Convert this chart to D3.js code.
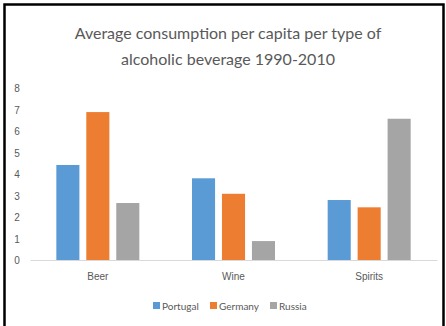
<!DOCTYPE html>
<html>
<head>
<meta charset="utf-8">
<script src="https://cdn.jsdelivr.net/npm/d3@7"></script>
<style>
  html, body { margin: 0; padding: 0; background: #fff; }
  svg { display: block; font-family: Lato, "Open Sans", sans-serif; }
</style>
</head>
<body>
<svg id="chart" width="446" height="326"></svg>
<script>
// Beverage types along the x axis
const categories = ["Beer", "Wine", "Spirits"];
// Countries, one bar each per beverage type
const seriesNames = ["Portugal", "Germany", "Russia"];
// Litres of pure alcohol per capita, per beverage type
const portugal = [4.42, 3.8, 2.79];
const germany = [6.88, 3.08, 2.45];
const russia = [2.65, 0.88, 6.57];
const yTicks = [0, 1, 2, 3, 4, 5, 6, 7, 8];
const titleLines = ["Average consumption per capita per type of", "alcoholic beverage 1990-2010"];
const colors = ["#5B9BD5", "#ED7D31", "#A5A5A5"];

const seriesValues = [portugal, germany, russia];
const svg = d3.select("#chart");

// outer frame
svg.append("rect")
  .attr("x", 4.5).attr("y", 4.5)
  .attr("width", 439).attr("height", 330)
  .attr("fill", "none").attr("stroke", "#000").attr("stroke-width", 2.5);

// title
svg.append("g").selectAll("text").data(titleLines).join("text")
  .attr("x", 228).attr("y", (d, i) => 38.5 + i * 26)
  .attr("text-anchor", "middle")
  .attr("font-size", 16)
  .attr("fill", "#595959")
  .text(d => d);

const plot = { left: 30, right: 437, top: 88, bottom: 260 };

const x0 = d3.scaleBand().domain(categories).range([plot.left, plot.right]).paddingInner(0).paddingOuter(0);
const x1 = d3.scaleBand().domain(seriesNames).range([0, 83]).paddingInner(0.23).paddingOuter(0);
const y = d3.scaleLinear().domain([0, 8]).range([plot.bottom, plot.top]);

// y tick labels (no axis line)
const yAxis = d3.axisLeft(y).tickValues(yTicks).tickSize(0).tickPadding(0).tickFormat(d3.format("d"));
const gy = svg.append("g").attr("transform", "translate(17,0)").call(yAxis);
gy.select(".domain").remove();
gy.selectAll("text").attr("font-size", 10).attr("fill", "#595959")
  .attr("font-family", "inherit").attr("text-anchor", "middle").attr("dy", "0.35em");

// bars
const groups = svg.append("g").selectAll("g").data(categories).join("g")
  .attr("transform", d => `translate(${x0(d) + (x0.bandwidth() - 83) / 2},0)`);
groups.selectAll("rect")
  .data((c, ci) => seriesNames.map((s, si) => ({ s, si, v: seriesValues[si][ci] })))
  .join("rect")
  .attr("x", d => x1(d.s))
  .attr("y", d => y(d.v))
  .attr("width", x1.bandwidth())
  .attr("height", d => y(0) - y(d.v))
  .attr("fill", d => colors[d.si]);

// category axis
const xAxis = d3.axisBottom(x0).tickSize(0).tickPadding(13);
const gx = svg.append("g").attr("transform", `translate(0,${plot.bottom})`).call(xAxis);
gx.select(".domain").attr("stroke", "#D9D9D9").attr("stroke-width", 1);
gx.selectAll("text").attr("font-size", 10).attr("fill", "#595959").attr("font-family", "inherit");

// legend
const legendX = [153, 210, 270];
const lg = svg.append("g").selectAll("g").data(seriesNames).join("g")
  .attr("transform", (d, i) => `translate(${legendX[i]},306)`);
lg.append("rect").attr("x", 0).attr("y", -4).attr("width", 7).attr("height", 7)
  .attr("fill", (d, i) => colors[i]);
lg.append("text").attr("x", 9).attr("y", 0).attr("dy", "0.35em")
  .attr("font-size", 10).attr("fill", "#595959").text(d => d);
</script>
</body>
</html>
